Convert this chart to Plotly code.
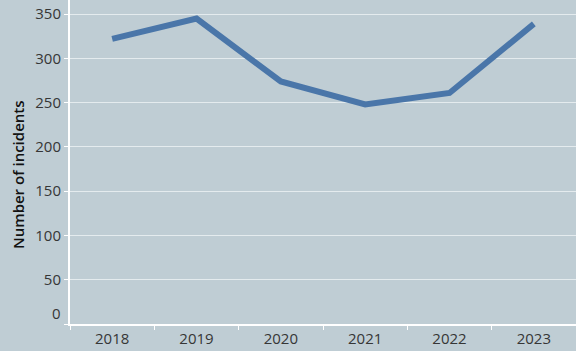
import plotly.graph_objects as go

years = ["2018", "2019", "2020", "2021", "2022", "2023"]
incidents = [322, 345, 274, 248, 261, 339]
y_ticks = [0, 50, 100, 150, 200, 250, 300, 350]
y_tick_text = ["", "50", "100", "150", "200", "250", "300", "350"]

bg = "#bfcdd4"
font = "Open Sans"
tick_color = "#363636"

fig = go.Figure()
fig.add_trace(go.Scatter(
    x=years, y=incidents, mode="lines",
    line=dict(color="#4a76a9", width=6),
    hoverinfo="skip",
))

fig.update_layout(
    width=576, height=351,
    margin=dict(l=70, r=0, t=0, b=27),
    paper_bgcolor=bg, plot_bgcolor=bg,
    showlegend=False,
    font=dict(family=font, size=15, color=tick_color),
)
fig.update_xaxes(
    type="category", range=[-0.5, 5.5],
    tickson="boundaries", ticks="outside", ticklen=4, tickcolor="#ffffff", tickwidth=1,
    showline=True, linecolor="#ffffff", linewidth=2,
    showgrid=False, zeroline=False,
    tickfont=dict(family=font, size=15, color=tick_color),
)
fig.update_yaxes(
    range=[0, 366],
    tickvals=y_ticks, ticktext=y_tick_text,
    ticks="outside", ticklen=4, tickcolor="#ffffff", tickwidth=1,
    showline=True, linecolor="#ffffff", linewidth=2,
    showgrid=True, gridcolor="#e4ebee", gridwidth=1,
    zeroline=False,
    tickfont=dict(family=font, size=15, color=tick_color),
)
fig.add_annotation(
    x=0, xref="paper", xanchor="right", xshift=-7,
    y=y_ticks[0], yref="y", yanchor="middle", yshift=11,
    text=str(y_ticks[0]), showarrow=False,
    font=dict(family=font, size=15, color=tick_color),
)
fig.add_annotation(
    x=0, xref="paper", xanchor="center", xshift=-52,
    y=0.46, yref="paper", yanchor="middle",
    text="Number of incidents", textangle=-90, showarrow=False,
    font=dict(family=font, size=15, color="#111111", weight=600),
)

fig.write_html(
    "out.html",
    config={"displayModeBar": False},
    post_script="document.body.style.margin='0';document.body.style.overflow='hidden';",
)
